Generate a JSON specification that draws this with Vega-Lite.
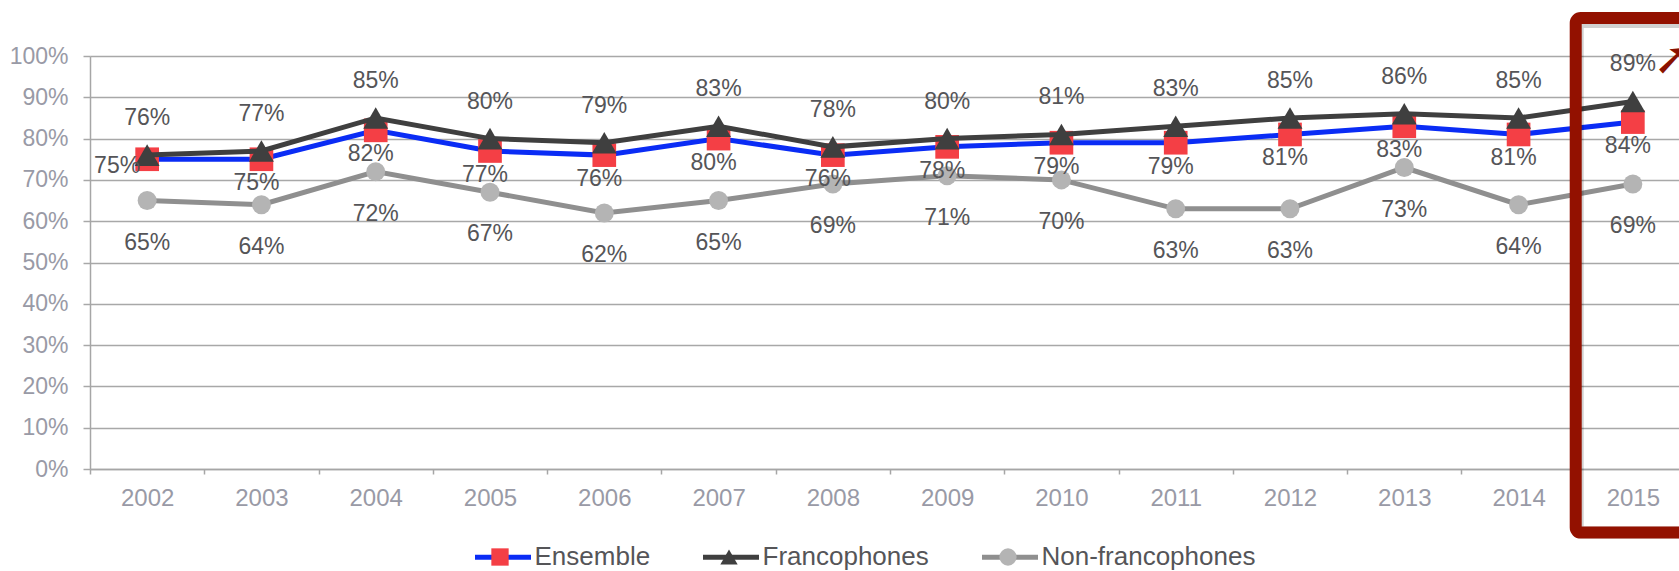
{
  "$schema": "https://vega.github.io/schema/vega-lite/v6.json",
  "width": 1600,
  "height": 413,
  "autosize": {"type": "none"},
  "padding": {"left": 90, "top": 56, "right": 0, "bottom": 102},
  "background": "white",
  "config": {"font": "Liberation Sans", "view": {"stroke": null}},
  "datasets": {
    "main": [
      {"year": "2002", "series": "Ensemble", "value": 0.75},
      {"year": "2003", "series": "Ensemble", "value": 0.75},
      {"year": "2004", "series": "Ensemble", "value": 0.82},
      {"year": "2005", "series": "Ensemble", "value": 0.77},
      {"year": "2006", "series": "Ensemble", "value": 0.76},
      {"year": "2007", "series": "Ensemble", "value": 0.80},
      {"year": "2008", "series": "Ensemble", "value": 0.76},
      {"year": "2009", "series": "Ensemble", "value": 0.78},
      {"year": "2010", "series": "Ensemble", "value": 0.79},
      {"year": "2011", "series": "Ensemble", "value": 0.79},
      {"year": "2012", "series": "Ensemble", "value": 0.81},
      {"year": "2013", "series": "Ensemble", "value": 0.83},
      {"year": "2014", "series": "Ensemble", "value": 0.81},
      {"year": "2015", "series": "Ensemble", "value": 0.84},
      {"year": "2002", "series": "Francophones", "value": 0.76},
      {"year": "2003", "series": "Francophones", "value": 0.77},
      {"year": "2004", "series": "Francophones", "value": 0.85},
      {"year": "2005", "series": "Francophones", "value": 0.80},
      {"year": "2006", "series": "Francophones", "value": 0.79},
      {"year": "2007", "series": "Francophones", "value": 0.83},
      {"year": "2008", "series": "Francophones", "value": 0.78},
      {"year": "2009", "series": "Francophones", "value": 0.80},
      {"year": "2010", "series": "Francophones", "value": 0.81},
      {"year": "2011", "series": "Francophones", "value": 0.83},
      {"year": "2012", "series": "Francophones", "value": 0.85},
      {"year": "2013", "series": "Francophones", "value": 0.86},
      {"year": "2014", "series": "Francophones", "value": 0.85},
      {"year": "2015", "series": "Francophones", "value": 0.89},
      {"year": "2002", "series": "Non-francophones", "value": 0.65},
      {"year": "2003", "series": "Non-francophones", "value": 0.64},
      {"year": "2004", "series": "Non-francophones", "value": 0.72},
      {"year": "2005", "series": "Non-francophones", "value": 0.67},
      {"year": "2006", "series": "Non-francophones", "value": 0.62},
      {"year": "2007", "series": "Non-francophones", "value": 0.65},
      {"year": "2008", "series": "Non-francophones", "value": 0.69},
      {"year": "2009", "series": "Non-francophones", "value": 0.71},
      {"year": "2010", "series": "Non-francophones", "value": 0.70},
      {"year": "2011", "series": "Non-francophones", "value": 0.63},
      {"year": "2012", "series": "Non-francophones", "value": 0.63},
      {"year": "2013", "series": "Non-francophones", "value": 0.73},
      {"year": "2014", "series": "Non-francophones", "value": 0.64},
      {"year": "2015", "series": "Non-francophones", "value": 0.69}
    ]
  },
  "data": {"name": "main"},
  "encoding": {
    "x": {
      "field": "year",
      "type": "ordinal",
      "scale": {"paddingInner": 0, "paddingOuter": 0},
      "axis": {
        "title": null,
        "labelAngle": 0,
        "tickBand": "extent",
        "tickSize": 5,
        "tickColor": "#a6a6a6",
        "tickWidth": 1.5,
        "domainColor": "#a6a6a6",
        "domainWidth": 1.5,
        "labelFontSize": 24,
        "labelColor": "#999aa6",
        "labelPadding": 12,
        "grid": false
      }
    },
    "y": {
      "field": "value",
      "type": "quantitative",
      "scale": {"domain": [0, 1], "nice": false},
      "axis": {
        "title": null,
        "values": [0, 0.1, 0.2, 0.3, 0.4, 0.5, 0.6, 0.7, 0.8, 0.9, 1],
        "format": ".0%",
        "grid": true,
        "gridColor": "#a8a8a8",
        "gridWidth": 1.5,
        "tickSize": 7,
        "tickColor": "#a8a8a8",
        "tickWidth": 1.5,
        "domainColor": "#a6a6a6",
        "domainWidth": 1.5,
        "labelFontSize": 23,
        "labelColor": "#999aa6",
        "labelPadding": 15
      }
    }
  },
  "layer": [
    {
      "transform": [{"filter": "datum.series === 'Non-francophones'"}],
      "mark": {"type": "line", "strokeWidth": 5},
      "encoding": {
        "color": {
          "field": "series", "type": "nominal",
          "scale": {"domain": ["Ensemble", "Francophones", "Non-francophones"], "range": ["#0a2cf5", "#3f3f3f", "#8f8f8f"]},
          "legend": {"title": null, "orient": "none", "legendX": 382.5, "legendY": 470.5, "direction": "horizontal", "symbolType": "stroke", "symbolSize": 3136, "symbolStrokeWidth": 5, "labelFontSize": 26, "labelLimit": 400, "labelColor": "#555558", "labelOffset": 1, "columnPadding": 42, "padding": 0, "labelFont": "Liberation Sans"}
        }
      }
    },
    {
      "transform": [{"filter": "datum.series === 'Non-francophones'"}],
      "mark": {"type": "point", "filled": true, "size": 360, "opacity": 1, "strokeWidth": 0},
      "encoding": {
        "fill": {"field": "series", "type": "nominal", "scale": {"range": ["#f43f45", "#3f3f3f", "#b4b4b4"]},
          "legend": {"title": null, "orient": "none", "legendX": 397, "legendY": 488, "direction": "horizontal", "symbolSize": 300, "symbolStrokeWidth": 0, "labelFontSize": 26, "labelLimit": 400, "labelColor": "rgba(0,0,0,0)", "labelOffset": 44.5, "columnPadding": 42, "padding": 0, "labelFont": "Liberation Sans"}},
        "shape": {"field": "series", "type": "nominal", "scale": {"range": ["square", "triangle-up", "circle"]},
          "legend": {"title": null, "orient": "none", "legendX": 397, "legendY": 488, "direction": "horizontal", "symbolSize": 300, "symbolStrokeWidth": 0, "labelFontSize": 26, "labelLimit": 400, "labelColor": "rgba(0,0,0,0)", "labelOffset": 44.5, "columnPadding": 42, "padding": 0, "labelFont": "Liberation Sans"}}
      }
    },
    {
      "transform": [{"filter": "datum.series === 'Ensemble'"}],
      "mark": {"type": "line", "strokeWidth": 5},
      "encoding": {
        "color": {
          "field": "series", "type": "nominal",
          "scale": {"domain": ["Ensemble", "Francophones", "Non-francophones"], "range": ["#0a2cf5", "#3f3f3f", "#8f8f8f"]},
          "legend": {"title": null, "orient": "none", "legendX": 382.5, "legendY": 470.5, "direction": "horizontal", "symbolType": "stroke", "symbolSize": 3136, "symbolStrokeWidth": 5, "labelFontSize": 26, "labelLimit": 400, "labelColor": "#555558", "labelOffset": 1, "columnPadding": 42, "padding": 0, "labelFont": "Liberation Sans"}
        }
      }
    },
    {
      "transform": [{"filter": "datum.series === 'Ensemble'"}],
      "mark": {"type": "point", "filled": true, "size": 560, "opacity": 1, "strokeWidth": 0},
      "encoding": {
        "fill": {"field": "series", "type": "nominal", "scale": {"range": ["#f43f45", "#3f3f3f", "#b4b4b4"]},
          "legend": {"title": null, "orient": "none", "legendX": 397, "legendY": 488, "direction": "horizontal", "symbolSize": 300, "symbolStrokeWidth": 0, "labelFontSize": 26, "labelLimit": 400, "labelColor": "rgba(0,0,0,0)", "labelOffset": 44.5, "columnPadding": 42, "padding": 0, "labelFont": "Liberation Sans"}},
        "shape": {"field": "series", "type": "nominal", "scale": {"range": ["square", "triangle-up", "circle"]},
          "legend": {"title": null, "orient": "none", "legendX": 397, "legendY": 488, "direction": "horizontal", "symbolSize": 300, "symbolStrokeWidth": 0, "labelFontSize": 26, "labelLimit": 400, "labelColor": "rgba(0,0,0,0)", "labelOffset": 44.5, "columnPadding": 42, "padding": 0, "labelFont": "Liberation Sans"}}
      }
    },
    {
      "transform": [{"filter": "datum.series === 'Francophones'"}],
      "mark": {"type": "line", "strokeWidth": 5},
      "encoding": {
        "color": {
          "field": "series", "type": "nominal",
          "scale": {"domain": ["Ensemble", "Francophones", "Non-francophones"], "range": ["#0a2cf5", "#3f3f3f", "#8f8f8f"]},
          "legend": {"title": null, "orient": "none", "legendX": 382.5, "legendY": 470.5, "direction": "horizontal", "symbolType": "stroke", "symbolSize": 3136, "symbolStrokeWidth": 5, "labelFontSize": 26, "labelLimit": 400, "labelColor": "#555558", "labelOffset": 1, "columnPadding": 42, "padding": 0, "labelFont": "Liberation Sans"}
        }
      }
    },
    {
      "transform": [{"filter": "datum.series === 'Francophones'"}],
      "mark": {"type": "point", "filled": true, "size": 620, "opacity": 1, "strokeWidth": 0},
      "encoding": {
        "fill": {"field": "series", "type": "nominal", "scale": {"range": ["#f43f45", "#3f3f3f", "#b4b4b4"]},
          "legend": {"title": null, "orient": "none", "legendX": 397, "legendY": 488, "direction": "horizontal", "symbolSize": 300, "symbolStrokeWidth": 0, "labelFontSize": 26, "labelLimit": 400, "labelColor": "rgba(0,0,0,0)", "labelOffset": 44.5, "columnPadding": 42, "padding": 0, "labelFont": "Liberation Sans"}},
        "shape": {"field": "series", "type": "nominal", "scale": {"range": ["square", "triangle-up", "circle"]},
          "legend": {"title": null, "orient": "none", "legendX": 397, "legendY": 488, "direction": "horizontal", "symbolSize": 300, "symbolStrokeWidth": 0, "labelFontSize": 26, "labelLimit": 400, "labelColor": "rgba(0,0,0,0)", "labelOffset": 44.5, "columnPadding": 42, "padding": 0, "labelFont": "Liberation Sans"}}
      }
    },
    {
      "transform": [{"filter": "datum.series === 'Francophones'"}],
      "mark": {"type": "text", "dy": -37, "fontSize": 23, "color": "#555558"},
      "encoding": {"text": {"field": "value", "type": "quantitative", "format": ".0%"}}
    },
    {
      "transform": [{"filter": "datum.series === 'Ensemble' && datum.year !== '2002'"}],
      "mark": {"type": "text", "dy": 24, "dx": -5, "fontSize": 23, "color": "#555558"},
      "encoding": {"text": {"field": "value", "type": "quantitative", "format": ".0%"}}
    },
    {
      "transform": [{"filter": "datum.series === 'Ensemble' && datum.year === '2002'"}],
      "mark": {"type": "text", "dy": 7, "dx": -7, "align": "right", "fontSize": 23, "color": "#555558"},
      "encoding": {"text": {"field": "value", "type": "quantitative", "format": ".0%"}}
    },
    {
      "transform": [{"filter": "datum.series === 'Non-francophones'"}],
      "mark": {"type": "text", "dy": 42, "fontSize": 23, "color": "#555558"},
      "encoding": {"text": {"field": "value", "type": "quantitative", "format": ".0%"}}
    },
    {
      "transform": [{"filter": "datum.series === 'Ensemble' && datum.year === '2015'"}],
      "mark": {"type": "bar", "fill": "transparent", "stroke": "#000000", "strokeOpacity": 0.18, "strokeWidth": 12, "cornerRadius": 5, "clip": false, "xOffset": 2, "yOffset": 4},
      "encoding": {
        "x": {"field": "year", "type": "ordinal"},
        "y": {"datum": 1.092, "type": "quantitative"},
        "y2": {"datum": -0.154}
      }
    },
    {
      "transform": [{"filter": "datum.series === 'Ensemble' && datum.year === '2015'"}],
      "mark": {"type": "bar", "fill": "transparent", "stroke": "#931100", "strokeWidth": 12, "cornerRadius": 5, "clip": false},
      "encoding": {
        "x": {"field": "year", "type": "ordinal"},
        "y": {"datum": 1.092, "type": "quantitative"},
        "y2": {"datum": -0.154}
      }
    },
    {
      "transform": [{"filter": "datum.series === 'Ensemble' && datum.year === '2015'"}],
      "mark": {"type": "text", "text": "➚", "font": "DejaVu Sans", "fontSize": 46, "fontWeight": "bold", "color": "#8b1200", "dx": 40, "clip": false},
      "encoding": {
        "x": {"field": "year", "type": "ordinal"},
        "y": {"datum": 0.99, "type": "quantitative"}
      }
    }
  ]
}
